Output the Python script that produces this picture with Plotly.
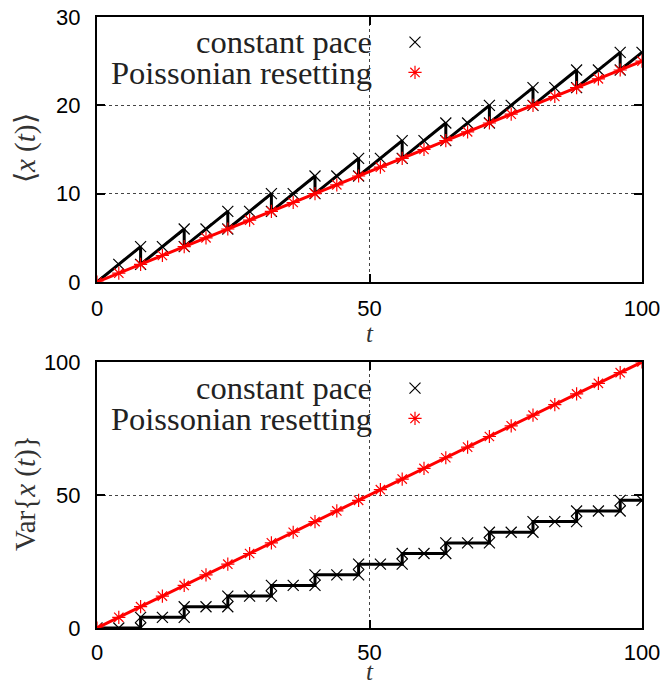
import plotly.graph_objects as go

# ---- data ----
t_cp_mean = [0, 4, 8, 8, 12, 16, 16, 20, 24, 24, 28, 32, 32, 36, 40, 40, 44, 48, 48,
             52, 56, 56, 60, 64, 64, 68, 72, 72, 76, 80, 80, 84, 88, 88, 92, 96, 96, 100]
x_cp_mean = [0, 2, 4, 2, 4, 6, 4, 6, 8, 6, 8, 10, 8, 10, 12, 10, 12, 14, 12,
             14, 16, 14, 16, 18, 16, 18, 20, 18, 20, 22, 20, 22, 24, 22, 24, 26, 24, 26]

t_pr = [0, 4, 8, 12, 16, 20, 24, 28, 32, 36, 40, 44, 48, 52, 56, 60, 64, 68, 72,
        76, 80, 84, 88, 92, 96, 100]
x_pr_mean = [0, 1, 2, 3, 4, 5, 6, 7, 8, 9, 10, 11, 12, 13, 14, 15, 16, 17, 18,
             19, 20, 21, 22, 23, 24, 25]

t_cp_var = [0, 4, 8, 8, 12, 16, 16, 20, 24, 24, 28, 32, 32, 36, 40, 40, 44, 48, 48,
            52, 56, 56, 60, 64, 64, 68, 72, 72, 76, 80, 80, 84, 88, 88, 92, 96, 96, 100]
v_cp_var = [0, 0, 0, 4, 4, 4, 8, 8, 8, 12, 12, 12, 16, 16, 16, 20, 20, 20, 24,
            24, 24, 28, 28, 28, 32, 32, 32, 36, 36, 36, 40, 40, 40, 44, 44, 44, 48, 48]

v_pr_var = [0, 4, 8, 12, 16, 20, 24, 28, 32, 36, 40, 44, 48, 52, 56, 60, 64, 68, 72,
            76, 80, 84, 88, 92, 96, 100]

x_ticks = [0, 50, 100]
y_ticks_top = [0, 10, 20, 30]
y_ticks_bot = [0, 50, 100]
labels = ["constant pace", "Poissonian resetting"]

W, H = 665, 684
def px(x): return x / W
def py(y): return (H - y) / H

BLACK_MK = dict(symbol="x-thin-open", size=11, color="black", line=dict(width=1.2, color="black"))
RED_MK = dict(symbol="asterisk-open", size=11, color="red", line=dict(width=1.2, color="red"))

fig = go.Figure()
# top panel
fig.add_trace(go.Scatter(x=t_cp_mean, y=x_cp_mean, mode="lines+markers",
                         line=dict(color="black", width=3), marker=BLACK_MK,
                         xaxis="x", yaxis="y", showlegend=False))
fig.add_trace(go.Scatter(x=t_pr, y=x_pr_mean, mode="lines+markers",
                         line=dict(color="red", width=3), marker=RED_MK,
                         xaxis="x", yaxis="y", showlegend=False))
# bottom panel
fig.add_trace(go.Scatter(x=t_cp_var, y=v_cp_var, mode="lines+markers",
                         line=dict(color="black", width=3), marker=BLACK_MK,
                         xaxis="x2", yaxis="y2", showlegend=False))
fig.add_trace(go.Scatter(x=t_pr, y=v_pr_var, mode="lines+markers",
                         line=dict(color="red", width=3), marker=RED_MK,
                         xaxis="x2", yaxis="y2", showlegend=False))

# legend sample markers (no data)
for lg in ["legend", "legend2"]:
    fig.add_trace(go.Scatter(x=[None], y=[None], mode="markers", marker=BLACK_MK,
                             name=" ", legend=lg, showlegend=True))
    fig.add_trace(go.Scatter(x=[None], y=[None], mode="markers", marker=RED_MK,
                             name=" ", legend=lg, showlegend=True))

xd = [px(97), px(642)]
axis_common = dict(showline=True, linecolor="black", linewidth=2, mirror="ticks",
                   ticks="inside", ticklen=8, tickwidth=1.5, tickcolor="black",
                   showgrid=True, griddash="dot", gridcolor="#444", gridwidth=1,
                   zeroline=False, automargin=False,
                   tickfont=dict(family="Liberation Sans", size=22, color="black"))

fig.update_layout(
    width=W, height=H, margin=dict(l=0, r=0, t=0, b=0),
    paper_bgcolor="white", plot_bgcolor="white",
    xaxis=dict(domain=xd, range=[0, 100], tickvals=x_ticks, anchor="y",
               ticklabelstandoff=6, **axis_common),
    yaxis=dict(domain=[py(282), py(17)], range=[0, 30], tickvals=y_ticks_top, anchor="x",
               ticklabelstandoff=10, **axis_common),
    xaxis2=dict(domain=xd, range=[0, 100], tickvals=x_ticks, anchor="y2",
                ticklabelstandoff=4, **axis_common),
    yaxis2=dict(domain=[py(628), py(362)], range=[0, 100], tickvals=y_ticks_bot, anchor="x2",
                ticklabelstandoff=10, **axis_common),
    legend=dict(x=px(395), y=py(22), xanchor="left", yanchor="top",
                bgcolor="rgba(0,0,0,0)", font=dict(size=21, family="Liberation Serif"),
                itemwidth=30, tracegroupgap=0),
    legend2=dict(x=px(395), y=py(368), xanchor="left", yanchor="top",
                 bgcolor="rgba(0,0,0,0)", font=dict(size=21, family="Liberation Serif"),
                 itemwidth=30, tracegroupgap=0),
)

serif = dict(family="Liberation Serif", size=32.5, color="#222")
anns = []
for yc, lab in [(42, labels[0]), (73, labels[1]), (388, labels[0]), (419, labels[1])]:
    anns.append(dict(x=px(374), y=py(yc), xref="paper", yref="paper", text=lab,
                     showarrow=False, xanchor="right", yanchor="middle", font=serif))
tfont = dict(family="Liberation Serif", size=25, color="#333")
anns.append(dict(x=px(369.5), y=py(333), xref="paper", yref="paper", text="<i>t</i>",
                 showarrow=False, xanchor="center", yanchor="middle", font=tfont,
                 borderpad=0))
anns.append(dict(x=px(369.5), y=py(671), xref="paper", yref="paper", text="<i>t</i>",
                 showarrow=False, xanchor="center", yanchor="middle", font=tfont,
                 borderpad=0))
anns.append(dict(x=px(25), y=py(148), xref="paper", yref="paper",
                 text="⟨<i>x</i> (<i>t</i>)⟩", textangle=-90,
                 showarrow=False, xanchor="center", yanchor="middle",
                 font=dict(family="Liberation Serif", size=29, color="#333")))
anns.append(dict(x=px(25), y=py(493), xref="paper", yref="paper",
                 text="Var{<i>x</i> (<i>t</i>)}", textangle=-90,
                 showarrow=False, xanchor="center", yanchor="middle",
                 font=dict(family="Liberation Serif", size=29, color="#333")))
fig.update_layout(annotations=anns)

fig.write_html("out.html", config={"displayModeBar": False},
               post_script="document.body.style.margin='0';")
